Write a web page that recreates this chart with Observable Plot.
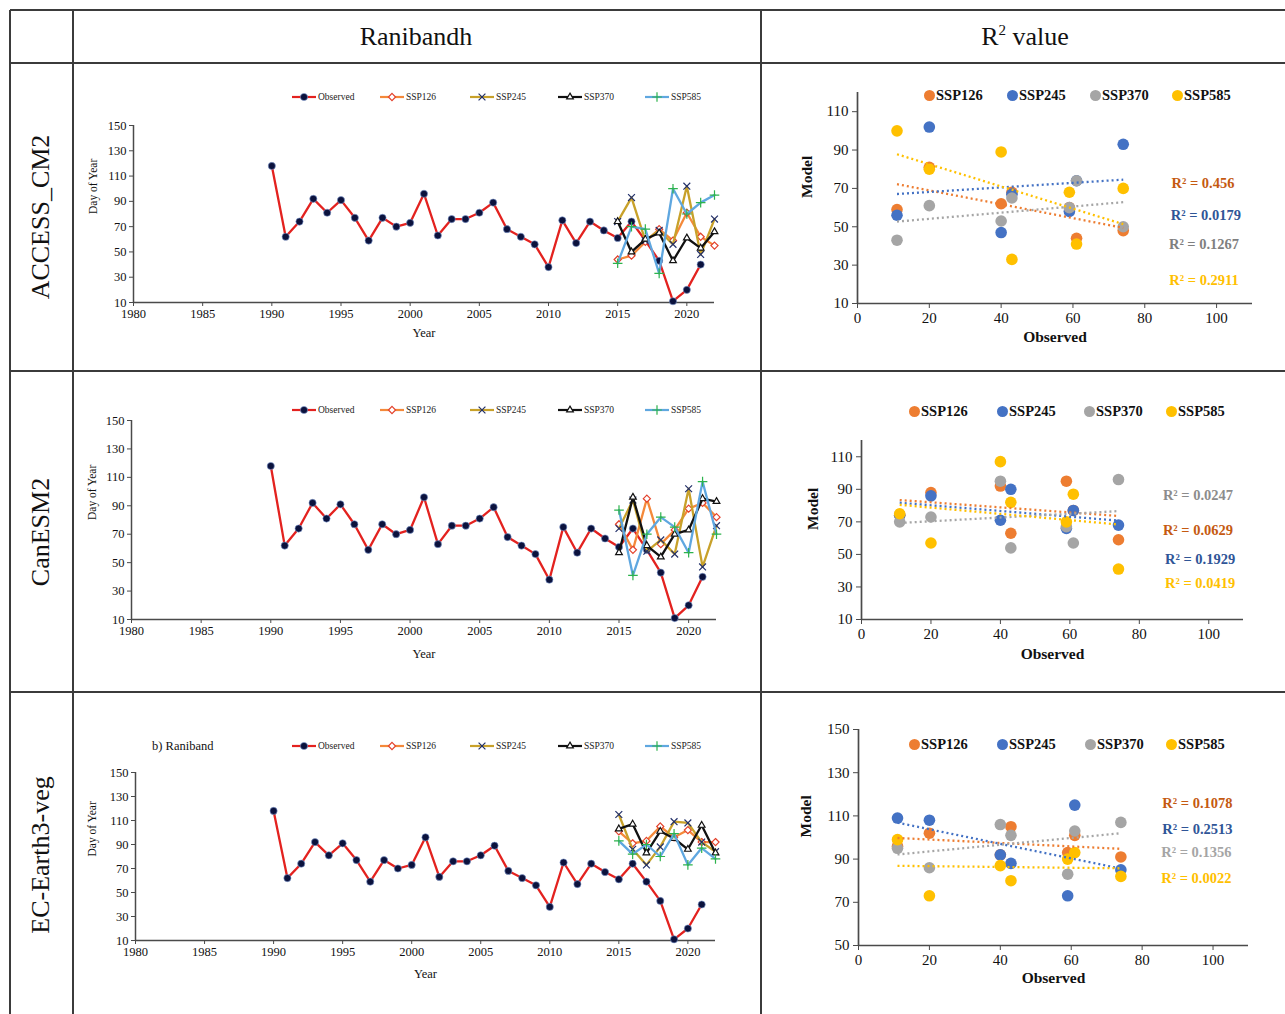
<!DOCTYPE html>
<html>
<head>
<meta charset="utf-8">
<title>Ranibandh – onset day of year and R² values</title>
<script src="https://cdn.jsdelivr.net/npm/d3@7"></script>
<script src="https://cdn.jsdelivr.net/npm/@observablehq/plot@0.6"></script>
<style>
  html, body { margin: 0; background: #fff; }
  #fig { position: relative; width: 1285px; height: 1014px; overflow: hidden;
         font-family: "Liberation Serif", "Times New Roman", serif; color: #111; }
  .rule { position: absolute; background: #3b3b3b; }
  .head { position: absolute; font-size: 26px; white-space: nowrap; transform: translate(-50%, -50%); }
  .head sup { font-size: 15px; vertical-align: 10px; line-height: 0; }
  .model { position: absolute; font-size: 26px; white-space: nowrap; transform: translate(-50%, -50%) rotate(-90deg); }
  .sdot { position: absolute; width: 11px; height: 11px; border-radius: 50%; }
  .stext { position: absolute; font-weight: bold; font-size: 14.5px; white-space: nowrap; transform: translateY(-50%); }
  .note { position: absolute; font-size: 12.5px; white-space: nowrap; transform: translateY(-50%); }
  svg.chart { position: absolute; overflow: visible; }
</style>
</head>
<body>
<div id="fig"></div>
<script>
const scenarios = ["SSP126", "SSP245", "SSP370", "SSP585"];
const models = ["ACCESS_CM2", "CanESM2", "EC-Earth3-veg"];

// Observed onset (day of year), 1990–2021
const obsYears = d3.range(1990, 2022);
const observed = [118, 62, 74, 92, 81, 91, 77, 59, 77, 70, 73, 96, 63, 76, 76, 81,
                  89, 68, 62, 56, 38, 75, 57, 74, 67, 61, 74, 59, 43, 11, 20, 40];

// Projected onset, 2015–2022; rows are SSP126, SSP245, SSP370, SSP585
const sspYears = d3.range(2015, 2023);
const accessLines = [
  [44, 47, 58, 68, 59, 81, 62, 55],
  [74, 93, 59, 67, 56, 102, 48, 76],
  [74, 50, 60, 65, 43, 61, 53, 66],
  [41, 70, 68, 33, 100, 80, 89, 95]
];
const canesmLines = [
  [77, 59, 95, 63, 73, 88, 92, 82],
  [74, 94, 58, 66, 56, 102, 47, 76],
  [57, 96, 62, 54, 70, 73, 95, 93],
  [87, 41, 70, 82, 75, 57, 107, 70]
];
const ecearthLines = [
  [101, 91, 93, 105, 96, 102, 92, 92],
  [115, 86, 73, 88, 109, 108, 92, 84],
  [103, 107, 83, 101, 95, 86, 106, 83],
  [93, 82, 90, 80, 99, 73, 87, 78]
];

// Model vs observed pairs for the R² panels (same scenario order)
const pairedObserved = [11, 20, 40, 43, 59, 61, 74];
const accessPairs = [
  [59, 81, 62, 68, 60, 44, 48],
  [56, 102, 47, 67, 58, 74, 93],
  [43, 61, 53, 65, 60, 74, 50],
  [100, 80, 89, 33, 68, 41, 70]
];
const canesmPairs = [
  [74, 88, 92, 63, 95, 77, 59],
  [74, 86, 71, 90, 66, 77, 68],
  [70, 73, 95, 54, 67, 57, 96],
  [75, 57, 107, 82, 70, 87, 41]
];
const ecearthPairs = [
  [96, 102, 92, 105, 93, 101, 91],
  [109, 108, 92, 88, 73, 115, 85],
  [95, 86, 106, 101, 83, 103, 107],
  [99, 73, 87, 80, 90, 93, 82]
];
const accessR2 = ["0.456", "0.0179", "0.1267", "0.2911"];
const canesmR2 = ["0.0629", "0.1929", "0.0247", "0.0419"];
const ecearthR2 = ["0.1078", "0.2513", "0.1356", "0.0022"];

// Tick values
const yearTicks = d3.range(1980, 2021, 5);
const doyTicks = d3.range(10, 151, 20);
const obsTicks = d3.range(0, 101, 20);

// ---------- styling ----------
const serif = '"Liberation Serif", "Times New Roman", serif';
const lineStyles = {
  Observed: {stroke: "#e3221f", symbol: "circle", fill: "#0b123d", mark: "#7f9bd0", r: 3.6},
  SSP126: {stroke: "#f4893a", symbol: "diamond2", fill: "#fff", mark: "#e3402b", r: 3.2},
  SSP245: {stroke: "#c8a12a", symbol: "times", fill: "none", mark: "#22306a", r: 3.2},
  SSP370: {stroke: "#111111", symbol: "triangle2", fill: "#fff", mark: "#111111", r: 3.2},
  SSP585: {stroke: "#5fa7e0", symbol: "plus", fill: "none", mark: "#2db34c", r: 3.2}
};
const d3Symbols = {
  circle: d3.symbolCircle, diamond2: d3.symbolDiamond2, times: d3.symbolTimes,
  triangle2: d3.symbolTriangle2, plus: d3.symbolPlus
};
const dotColors = ["#ed7d31", "#4472c4", "#a5a5a5", "#ffc000"];

const rows = [
  {lines: accessLines, pairs: accessPairs, r2: accessR2, label: models[0], labelY: 217,
   line: {left: 60, top: 110, width: 668, height: 237, ml: 73, mr: 14, mt: 15, mb: 45, yearDy: 34, titleDx: -40, legendY: 97},
   sc: {left: 765, top: 70, width: 512, height: 283, ml: 92, mr: 25, mt: 22, mb: 50,
        domain: [10, 120], ticks: d3.range(10, 111, 20), obsDy: 38, modelDx: -50,
        legendY: 95, legendX: [929, 1012, 1095, 1177],
        r2At: [[96.2, 72.6], [97, 55.9], [96.5, 40.8], [96.5, 22]],
        r2Colors: ["#c55a11", "#2f5597", "#7f7f7f", "#ffc000"]}},
  {lines: canesmLines, pairs: canesmPairs, r2: canesmR2, label: models[1], labelY: 532,
   line: {left: 60, top: 405, width: 670, height: 259, ml: 71, mr: 14, mt: 15, mb: 45, yearDy: 38, titleDx: -39, legendY: 410},
   sc: {left: 765, top: 390, width: 508, height: 279, ml: 96, mr: 30, mt: 50, mb: 50,
        domain: [10, 120], ticks: d3.range(10, 111, 20), obsDy: 39, modelDx: -48,
        legendY: 411, legendX: [914, 1002, 1089, 1171],
        r2At: [[96.9, 64.5], [97.5, 46.8], [96.9, 86], [97.5, 32]],
        r2Colors: ["#c55a11", "#2f5597", "#8c8c8c", "#ffc000"]}},
  {lines: ecearthLines, pairs: ecearthPairs, r2: ecearthR2, label: models[2], labelY: 855,
   line: {left: 60, top: 757, width: 669, height: 228, ml: 75, mr: 14, mt: 15, mb: 45, yearDy: 37, titleDx: -43, legendY: 746},
   sc: {left: 765, top: 712, width: 508, height: 283, ml: 93, mr: 25, mt: 17, mb: 50,
        domain: [50, 150], ticks: d3.range(50, 151, 20), obsDy: 37, modelDx: -52,
        legendY: 744, legendX: [914, 1002, 1090, 1171],
        r2At: [[95.6, 115.9], [95.6, 103.8], [95.3, 93.1], [95.3, 81.1]],
        r2Colors: ["#c55a11", "#2f5597", "#a5a5a5", "#ffc000"]}}
];

const fig = document.getElementById("fig");

function place(node, left, top) {
  node.classList.add("chart");
  node.style.left = left + "px";
  node.style.top = top + "px";
  fig.appendChild(node);
}

function addDiv(cls, html, style) {
  const el = document.createElement("div");
  el.className = cls;
  el.innerHTML = html;
  Object.assign(el.style, style);
  fig.appendChild(el);
  return el;
}

// ---------- table frame ----------
const hRules = [10, 63, 371, 692];
const vRules = [10, 73, 761];
hRules.forEach(y => addDiv("rule", "", {left: "10px", top: (y - 1) + "px", width: "1275px", height: "2px"}));
vRules.forEach(x => addDiv("rule", "", {left: (x - 1) + "px", top: "10px", width: "2px", height: "1004px"}));
addDiv("head", "Ranibandh", {left: "416px", top: "37px"});
addDiv("head", "R<sup>2</sup> value", {left: "1025px", top: "37px"});
rows.forEach(r => addDiv("model", r.label, {left: "41px", top: r.labelY + "px"}));
addDiv("note", "b) Raniband", {left: "152px", top: "746px"});

// ---------- time-series panels ----------
function lineChart(row) {
  const L = row.line;
  const obsData = obsYears.map((year, i) => ({year, value: observed[i]}));
  const marks = [
    Plot.ruleY([10], {stroke: "#4a4a4a", strokeWidth: 1.5}),
    Plot.ruleX([1980], {stroke: "#4a4a4a", strokeWidth: 1.5}),
    Plot.axisX({ticks: yearTicks, tickFormat: "d", tickSize: 4, tickPadding: 3, stroke: "#4a4a4a", label: null}),
    Plot.axisY({ticks: doyTicks, tickSize: 4, tickPadding: 3, stroke: "#4a4a4a", label: null}),
    Plot.text(["Year"], {frameAnchor: "bottom", dy: L.yearDy, fontSize: 12.5}),
    Plot.text(["Day of Year"], {frameAnchor: "left", rotate: -90, dx: L.titleDx, fontSize: 11.5})
  ];
  const series = [{name: "Observed", data: obsData}].concat(
    scenarios.map((s, i) => ({name: s, data: sspYears.map((year, j) => ({year, value: row.lines[i][j]}))}))
  );
  series.forEach(({name, data}) => {
    const st = lineStyles[name];
    marks.push(Plot.line(data, {x: "year", y: "value", stroke: st.stroke, strokeWidth: 2.3}));
    marks.push(Plot.dot(data, {x: "year", y: "value", symbol: st.symbol, r: st.r,
      fill: st.fill, stroke: st.mark, strokeWidth: name === "Observed" ? 0.6 : 1.2}));
  });
  return Plot.plot({
    width: L.width, height: L.height,
    marginLeft: L.ml, marginRight: L.mr, marginTop: L.mt, marginBottom: L.mb,
    x: {domain: [1980, 2022], label: null},
    y: {domain: [10, 150], label: null},
    style: {fontFamily: serif, fontSize: "12.5px", background: "transparent", color: "#111"},
    marks
  });
}

function lineLegend(y) {
  const names = ["Observed"].concat(scenarios);
  const starts = [292, 380, 470, 558, 645];
  const svg = d3.create("svg").attr("width", 440).attr("height", 16)
    .attr("font-family", serif).attr("class", "chart")
    .style("left", "280px").style("top", (y - 8) + "px");
  names.forEach((name, i) => {
    const st = lineStyles[name];
    const x0 = starts[i] - 280;
    svg.append("line").attr("x1", x0).attr("x2", x0 + 24).attr("y1", 8).attr("y2", 8)
      .attr("stroke", st.stroke).attr("stroke-width", 2.2);
    svg.append("path").attr("transform", `translate(${x0 + 12},8)`)
      .attr("d", d3.symbol(d3Symbols[st.symbol], Math.PI * st.r * st.r)())
      .attr("fill", st.fill).attr("stroke", st.mark).attr("stroke-width", name === "Observed" ? 0.6 : 1.2);
    svg.append("text").attr("x", x0 + 26).attr("y", 8).attr("dy", "0.35em")
      .attr("font-size", 9.5).attr("fill", "#222").text(name);
  });
  fig.appendChild(svg.node());
}

// ---------- model vs observed panels ----------
function scatterChart(row) {
  const S = row.sc;
  const sets = scenarios.map((s, i) => pairedObserved.map((x, j) => ({scenario: s, observed: x, model: row.pairs[i][j]})));
  const marks = [
    Plot.ruleY([S.domain[0]], {stroke: "#4a4a4a", strokeWidth: 1.7}),
    Plot.ruleX([0], {stroke: "#4a4a4a", strokeWidth: 1.7}),
    Plot.axisX({ticks: obsTicks, tickSize: 5, tickPadding: 4, stroke: "#4a4a4a", label: null}),
    Plot.axisY({ticks: S.ticks, tickSize: 5, tickPadding: 4, stroke: "#4a4a4a", label: null}),
    Plot.text(["Observed"], {frameAnchor: "bottom", dy: S.obsDy, fontSize: 15.5, fontWeight: "bold"}),
    Plot.text(["Model"], {frameAnchor: "left", rotate: -90, dx: S.modelDx, fontSize: 15.5, fontWeight: "bold"})
  ];
  sets.forEach((d, i) => marks.push(Plot.dot(d, {x: "observed", y: "model", r: 5.8, fill: dotColors[i]})));
  sets.forEach((d, i) => marks.push(Plot.linearRegressionY(d, {
    x: "observed", y: "model", stroke: dotColors[i], strokeWidth: 2.3,
    strokeDasharray: "2,3", strokeLinecap: "butt", ci: 0
  })));
  const labels = scenarios.map((s, i) => ({text: "R² = " + row.r2[i], x: S.r2At[i][0], y: S.r2At[i][1], color: S.r2Colors[i]}));
  marks.push(Plot.text(labels, {x: "x", y: "y", text: "text", fill: "color", fontSize: 14.5, fontWeight: "bold"}));
  return Plot.plot({
    width: S.width, height: S.height,
    marginLeft: S.ml, marginRight: S.mr, marginTop: S.mt, marginBottom: S.mb,
    x: {domain: [0, 110], label: null},
    y: {domain: S.domain, label: null},
    style: {fontFamily: serif, fontSize: "15px", background: "transparent", color: "#111"},
    marks
  });
}

function scatterLegend(S) {
  scenarios.forEach((s, i) => {
    const x = S.legendX[i];
    addDiv("sdot", "", {left: (x - 5.5) + "px", top: (S.legendY - 5.5) + "px", background: dotColors[i]});
    addDiv("stext", s, {left: (x + 7) + "px", top: S.legendY + "px"});
  });
}

rows.forEach(row => {
  place(lineChart(row), row.line.left, row.line.top);
  lineLegend(row.line.legendY);
  place(scatterChart(row), row.sc.left, row.sc.top);
  scatterLegend(row.sc);
});
</script>
</body>
</html>
